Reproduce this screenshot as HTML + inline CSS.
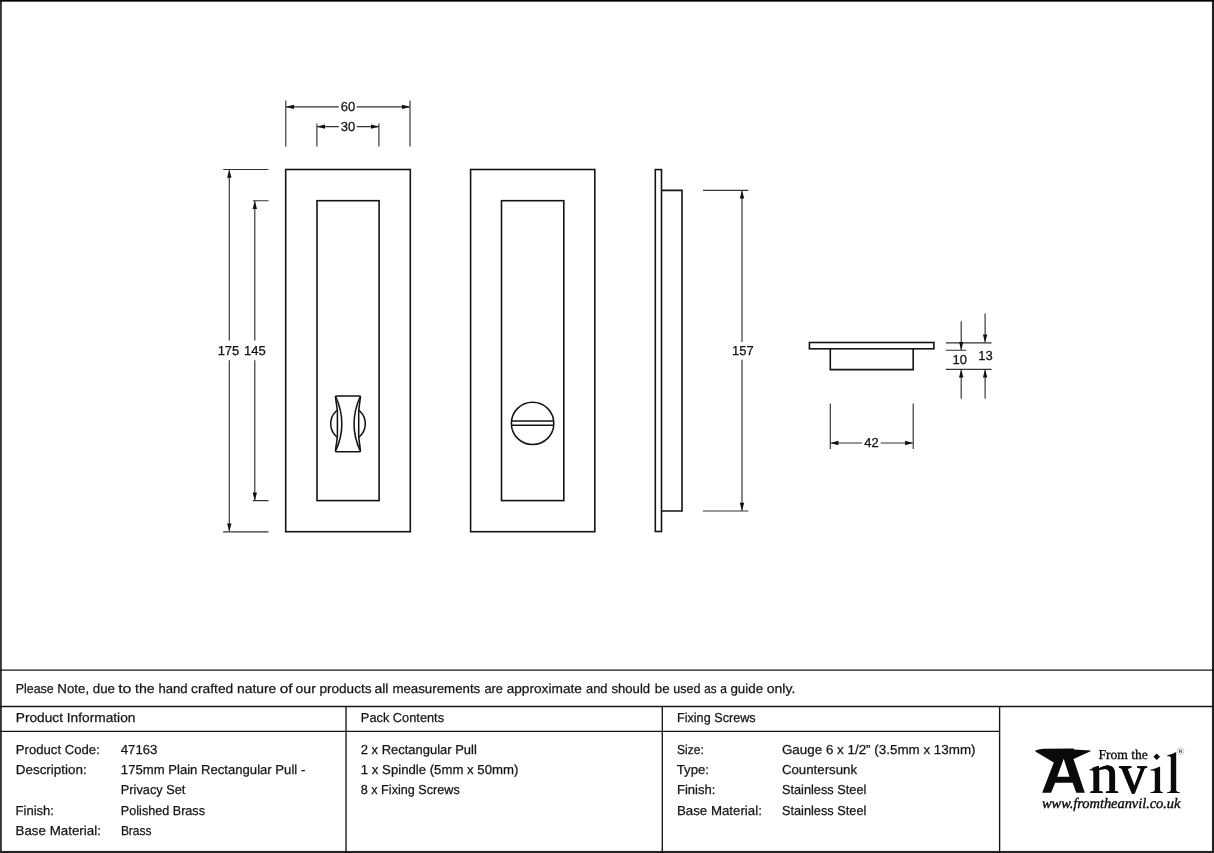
<!DOCTYPE html>
<html lang="en">
<head>
<meta charset="utf-8">
<title>175mm Plain Rectangular Pull - Privacy Set</title>
<style>
  html, body { margin: 0; padding: 0; background: #fff; }
  body { width: 1214px; height: 853px; position: relative; overflow: hidden;
         font-family: "Liberation Sans", sans-serif; color: #111; }
  svg { position: absolute; left: 0; top: 0; will-change: transform; text-rendering: geometricPrecision; }
  #text { position: absolute; left: 0; top: 0; width: 1214px; height: 853px; will-change: transform; }
  .t { position: absolute; left: 0; top: 0; white-space: nowrap; font-size: 13px; line-height: 14px;
       transform-origin: 0 0; color: #151515; -webkit-text-stroke: 0.25px #151515; text-rendering: geometricPrecision; }
</style>
</head>
<body>

<!-- table rules -->
<svg id="rules" width="1214" height="853" viewBox="0 0 1214 853">
  <!-- sheet border -->
  <rect x="0" y="0" width="1.85" height="853" fill="#333"/>
  <rect x="1211.95" y="0" width="2.05" height="853" fill="#222"/>
  <rect x="0" y="0" width="1214" height="1.65" fill="#000"/>
  <rect x="0" y="850.95" width="1214" height="2.05" fill="#242424"/>
  <g fill="none" stroke="#161616" stroke-width="1.35">
    <path d="M0,670.1 H1214 M0,706.5 H1214 M0,731.4 H999.6"/>
    <path d="M346.05,706.5 V853 M662.3,706.5 V853 M999.6,706.5 V853"/>
  </g>
</svg>

<!-- drawing -->
<svg id="drawing" width="1214" height="670" viewBox="0 0 1214 670">
  <defs>
    <path id="ah" d="M1,-0.3 L8,-2.2 L8,2.2 L1,0.3 Z" fill="#111"/>
  </defs>
  <!-- ===== object outlines ===== -->
  <g fill="none" stroke="#141414" stroke-width="1.6">
    <!-- front plate A -->
    <rect x="285.7" y="169.5" width="124.6" height="362.2"/>
    <rect x="317" y="200.7" width="62.1" height="299.9"/>
    <!-- front plate B -->
    <rect x="470.6" y="169.5" width="124.2" height="362.2"/>
    <rect x="501.5" y="200.7" width="62.3" height="299.9"/>
    <!-- side view -->
    <rect x="655.3" y="169.6" width="6.2" height="361.9"/>
    <path d="M661.5,190.4 H682 V511 H661.5"/>
    <!-- top view -->
    <rect x="809.4" y="342.5" width="124.5" height="6.3"/>
    <path d="M830.3,348.8 V369.6 H913.2 V348.8"/>
  </g>
  <!-- thumb turn -->
  <g fill="none" stroke="#141414" stroke-width="1.55" stroke-linejoin="round">
    <circle cx="348" cy="423.7" r="17.3"/>
    <path fill="#fff" d="M336.5,395.9 H359.4 Q360.5,395.9 360.4,397 C359.9,403 358.7,408 358.7,412 V435.5 C358.7,439.5 359.9,444.5 360.4,450.6 Q360.5,451.7 359.4,451.7 H336.5 Q335.4,451.7 335.5,450.6 C336,444.5 337.4,439.5 337.4,435.5 V412 C337.4,408 336,403 335.5,397 Q335.4,395.9 336.5,395.9 Z"/>
    <path d="M336,397.3 Q347.7,424 336,450.3"/>
    <path d="M359.9,397.3 Q348.2,424 359.9,450.3"/>
  </g>
  <!-- slotted emergency release -->
  <g fill="none" stroke="#141414" stroke-width="1.55">
    <circle cx="532.6" cy="423.4" r="21.2"/>
    <path d="M511.5,421 H553.7 M511.5,425.2 H553.7"/>
  </g>
  <!-- ===== dimension lines ===== -->
  <g fill="none" stroke="#333" stroke-width="1.15">
    <!-- 60 / 30 -->
    <path d="M285.8,100.5 V146.4 M410,100.5 V146.4 M316.9,123.6 V146.4 M378.9,123.6 V146.4"/>
    <path d="M286,106.9 H338.8 M356.7,106.9 H410 M317,126.6 H338.8 M356.7,126.6 H379"/>
    <!-- 175 / 145 -->
    <path d="M223.2,169.5 H268.5 M223.2,531.8 H268.5 M252.9,200.7 H268.5 M252.9,500.6 H268.5"/>
    <path d="M229.3,170 V340.5 M229.3,360.3 V531 M254.8,201 V340.5 M254.8,360.3 V500"/>
    <!-- 157 -->
    <path d="M703,190.4 H748.4 M703,511 H748.4 M742,191 V342.1 M742,359.8 V510.5"/>
    <!-- 42 -->
    <path d="M830.3,403.6 V449 M913.2,403.6 V449 M830.5,443 H862.1 M880.7,443 H913"/>
    <!-- 10 / 13 -->
    <path d="M945.8,342.8 H991.6 M945.8,350.2 H966.4 M945.8,369.3 H991.6"/>
    <path d="M961.2,321.2 V350 M961.2,398.8 V369.5 M985.1,313.4 V342.5 M985.1,398.8 V369.5"/>
  </g>
  <!-- arrowheads -->
  <g>
    <use href="#ah" transform="translate(286,106.9)"/>
    <use href="#ah" transform="translate(410,106.9) rotate(180)"/>
    <use href="#ah" transform="translate(317,126.6)"/>
    <use href="#ah" transform="translate(379,126.6) rotate(180)"/>
    <use href="#ah" transform="translate(229.3,169.7) rotate(90)"/>
    <use href="#ah" transform="translate(229.3,531.6) rotate(-90)"/>
    <use href="#ah" transform="translate(254.8,200.9) rotate(90)"/>
    <use href="#ah" transform="translate(254.8,500.4) rotate(-90)"/>
    <use href="#ah" transform="translate(742,190.6) rotate(90)"/>
    <use href="#ah" transform="translate(742,510.8) rotate(-90)"/>
    <use href="#ah" transform="translate(830.4,443)"/>
    <use href="#ah" transform="translate(913.1,443) rotate(180)"/>
    <use href="#ah" transform="translate(961.2,350) rotate(-90)"/>
    <use href="#ah" transform="translate(961.2,369.5) rotate(90)"/>
    <use href="#ah" transform="translate(985.1,342.6) rotate(-90)"/>
    <use href="#ah" transform="translate(985.1,369.5) rotate(90)"/>
  </g>
  <!-- dimension text -->
  <g font-family="Liberation Sans, sans-serif" font-size="13" fill="#111" stroke="#111" stroke-width="0.25" text-anchor="middle">
    <text x="348" y="111.1">60</text>
    <text x="348" y="130.8">30</text>
    <text x="228.5" y="355">175</text>
    <text x="254.8" y="355">145</text>
    <text x="742.8" y="355">157</text>
    <text x="871.4" y="447">42</text>
    <text x="959.8" y="364">10</text>
    <text x="985.4" y="359.9">13</text>
  </g>
</svg>

<!-- text -->
<div id="text">
<div class="t" style="transform:translate(15.87px,681.90px) scaleX(0.9509)">Please</div>
<div class="t" style="transform:translate(57.34px,681.90px) scaleX(1.0232)">Note,</div>
<div class="t" style="transform:translate(92.74px,681.90px) scaleX(1.0275)">due</div>
<div class="t" style="transform:translate(118.15px,681.90px) scaleX(1.2265)">to</div>
<div class="t" style="transform:translate(135.01px,681.90px) scaleX(1.0842)">the</div>
<div class="t" style="transform:translate(158.55px,681.90px) scaleX(1.0062)">hand</div>
<div class="t" style="transform:translate(191.12px,681.90px) scaleX(1.0591)">crafted</div>
<div class="t" style="transform:translate(237.02px,681.90px) scaleX(1.0658)">nature</div>
<div class="t" style="transform:translate(279.77px,681.90px) scaleX(1.1804)">of</div>
<div class="t" style="transform:translate(295.51px,681.90px) scaleX(1.0853)">our</div>
<div class="t" style="transform:translate(319.53px,681.90px) scaleX(1.0406)">products</div>
<div class="t" style="transform:translate(374.42px,681.90px) scaleX(1.0756)">all</div>
<div class="t" style="transform:translate(392.39px,681.90px) scaleX(1.0217)">measurements</div>
<div class="t" style="transform:translate(484.46px,681.90px) scaleX(0.9842)">are</div>
<div class="t" style="transform:translate(506.63px,681.90px) scaleX(1.0525)">approximate</div>
<div class="t" style="transform:translate(586.05px,681.90px) scaleX(0.9906)">and</div>
<div class="t" style="transform:translate(611.55px,681.90px) scaleX(1.0049)">should</div>
<div class="t" style="transform:translate(654.74px,681.90px) scaleX(1.0229)">be</div>
<div class="t" style="transform:translate(673.37px,681.90px) scaleX(0.9644)">used</div>
<div class="t" style="transform:translate(704.30px,681.90px) scaleX(0.8956)">as</div>
<div class="t" style="transform:translate(720.28px,681.90px) scaleX(0.9261)">a</div>
<div class="t" style="transform:translate(730.44px,681.90px) scaleX(1.0279)">guide</div>
<div class="t" style="transform:translate(766.82px,681.90px) scaleX(1.0755)">only.</div>
<div class="t" style="transform:translate(15.73px,711.30px) scaleX(1.0551)">Product Information</div>
<div class="t" style="transform:translate(360.86px,711.30px) scaleX(0.9841)">Pack Contents</div>
<div class="t" style="transform:translate(676.96px,711.30px) scaleX(0.9725)">Fixing Screws</div>
<div class="t" style="transform:translate(15.74px,742.50px) scaleX(1.0119)">Product Code:</div>
<div class="t" style="transform:translate(120.74px,742.50px) scaleX(1.0123)">47163</div>
<div class="t" style="transform:translate(15.73px,763.00px) scaleX(1.0344)">Description:</div>
<div class="t" style="transform:translate(120.85px,763.00px) scaleX(1.0087)">175mm Plain Rectangular Pull -</div>
<div class="t" style="transform:translate(120.86px,783.40px) scaleX(0.9810)">Privacy Set</div>
<div class="t" style="transform:translate(15.55px,803.80px) scaleX(1.0027)">Finish:</div>
<div class="t" style="transform:translate(120.86px,803.80px) scaleX(0.9698)">Polished Brass</div>
<div class="t" style="transform:translate(15.54px,824.20px) scaleX(1.0266)">Base Material:</div>
<div class="t" style="transform:translate(120.89px,824.20px) scaleX(0.9207)">Brass</div>
<div class="t" style="transform:translate(360.75px,742.50px) scaleX(0.9979)">2 x Rectangular Pull</div>
<div class="t" style="transform:translate(360.84px,763.00px) scaleX(1.0140)">1 x Spindle (5mm x 50mm)</div>
<div class="t" style="transform:translate(360.76px,783.40px) scaleX(0.9718)">8 x Fixing Screws</div>
<div class="t" style="transform:translate(676.98px,742.50px) scaleX(0.9306)">Size:</div>
<div class="t" style="transform:translate(781.94px,742.50px) scaleX(1.0306)">Gauge 6 x 1/2” (3.5mm x 13mm)</div>
<div class="t" style="transform:translate(676.74px,763.00px) scaleX(1.0127)">Type:</div>
<div class="t" style="transform:translate(781.94px,763.00px) scaleX(1.0187)">Countersunk</div>
<div class="t" style="transform:translate(676.95px,783.40px) scaleX(1.0027)">Finish:</div>
<div class="t" style="transform:translate(781.96px,783.40px) scaleX(0.9814)">Stainless Steel</div>
<div class="t" style="transform:translate(676.94px,803.80px) scaleX(1.0217)">Base Material:</div>
<div class="t" style="transform:translate(781.96px,803.80px) scaleX(0.9814)">Stainless Steel</div>
</div>

<!-- logo -->
<svg id="logo" width="1214" height="853" viewBox="0 0 1214 853" style="pointer-events:none">
  <!-- anvil-shaped A -->
  <path fill="#0a0a0a" fill-rule="evenodd" d="M1035.4,750.6 Q1038,749.2 1043.6,748.8 L1073.5,748.5 L1074.2,749.5 L1090.6,750.4 L1090.6,751.2 L1073.5,759 L1084.8,792.7 L1076.3,792.7 L1072.6,782.8 L1055.2,782.8 L1051.1,792.7 L1042.2,792.7 L1053.8,762.4 L1035.4,751.5 Z M1063.7,758.7 L1069.5,776.7 L1057.2,776.7 Z"/>
  <g font-family="Liberation Serif, serif" fill="#0a0a0a">
    <g font-size="58" stroke="#0a0a0a" stroke-width="0.2">
      <text x="1089.35" y="793.1" textLength="29.4" lengthAdjust="spacingAndGlyphs">n</text>
      <text x="1088.95" y="793.1" textLength="29.4" lengthAdjust="spacingAndGlyphs" aria-hidden="true">n</text>
      <text x="1089.75" y="793.1" textLength="29.4" lengthAdjust="spacingAndGlyphs" aria-hidden="true">n</text>
      <text x="1119.3" y="793.1" textLength="27.4" lengthAdjust="spacingAndGlyphs">v</text>
      <text x="1118.9" y="793.1" textLength="27.4" lengthAdjust="spacingAndGlyphs" aria-hidden="true">v</text>
      <text x="1119.7" y="793.1" textLength="27.4" lengthAdjust="spacingAndGlyphs" aria-hidden="true">v</text>
    </g>
    <!-- slanted flag serif on the n -->
    <path fill="#fff" d="M1087.5,763 L1098.95,763 L1098.95,765.5 L1087.5,769.5 Z"/>
    <path d="M1089.5,770.2 L1089.5,769.4 C1092.5,768.6 1096,767.2 1098.9,765.8 L1098.9,772 L1093.5,772 C1093.5,770.7 1093,770.2 1089.5,770.2 Z"/>
    <!-- dotless i and l drawn as outlines (flag serifs) -->
    <path d="M1150.3,770.5 L1150.3,769.7 C1153,769 1157,767.8 1160.1,766.4 L1160.1,789.5 C1160.1,791.3 1161,792 1163,792.2 L1163,793.1 L1150.3,793.1 L1150.3,792.2 C1153.4,792 1154.8,791.3 1154.8,789.5 L1154.8,772.2 C1154.8,770.9 1154,770.5 1150.3,770.5 Z"/>
    <path d="M1167.1,756.3 L1167.1,755.5 C1170,754.8 1173.5,753.5 1176.2,752.1 L1176.2,789.5 C1176.2,791.3 1177.2,792 1179.9,792.2 L1179.9,793.1 L1167.1,793.1 L1167.1,792.2 C1169.8,792 1170.8,791.3 1170.8,789.5 L1170.8,758.2 C1170.8,756.8 1170,756.3 1167.1,756.3 Z"/>
    <text x="1098.4" y="759.2" font-size="13.6" stroke="#0a0a0a" stroke-width="0.3">From the</text>
    <text x="1042" y="807.6" font-size="14.5" font-style="italic" stroke="#0a0a0a" stroke-width="0.35" textLength="138.5" lengthAdjust="spacing">www.fromtheanvil.co.uk</text>
  </g>
  <!-- diamond i-dot -->
  <path fill="#0a0a0a" d="M1156.7,753.4 L1160,756.7 L1156.7,760 L1153.4,756.7 Z"/>
  <!-- registered mark -->
  <circle cx="1180.6" cy="751.3" r="3.3" fill="none" stroke="#b0b0b0" stroke-width="0.7"/>
  <text x="1180.6" y="753" font-family="Liberation Sans, sans-serif" font-size="4.8" font-weight="bold" fill="#333" text-anchor="middle">R</text>
</svg>
</body>
</html>
